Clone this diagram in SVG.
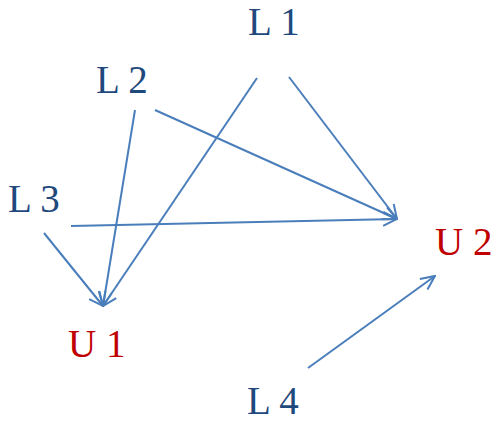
<svg xmlns="http://www.w3.org/2000/svg" width="494" height="423" viewBox="0 0 494 423">
<style>
.lbl{font-family:"Liberation Serif","Times New Roman",serif;font-size:39px}
.l{fill:#1F497D}
.u{fill:#C00000}
.e{stroke:#4A7EBB;stroke-width:2;fill:none;marker-end:url(#ah)}
</style>
<defs>
<marker id="ah" viewBox="0 0 16 16" refX="15" refY="8" markerWidth="16" markerHeight="16" markerUnits="userSpaceOnUse" orient="auto">
<path d="M1,1.5 L15,8 L1,14.5" fill="none" stroke="#4A7EBB" stroke-width="2"/>
</marker>
</defs>
<rect width="494" height="423" fill="#fff"/>
<g id="connectors">
<line class="e" x1="257" y1="78" x2="103" y2="306"/>
<line class="e" x1="289" y1="77" x2="397" y2="219"/>
<line class="e" x1="155" y1="110" x2="397" y2="219"/>
<line class="e" x1="135" y1="110" x2="103" y2="306"/>
<line class="e" x1="71" y1="226" x2="397" y2="219"/>
<line class="e" x1="44" y1="233" x2="103" y2="306"/>
<line class="e" x1="308" y1="368" x2="435" y2="276"/>
</g>
<g id="L1"><text class="lbl l" x="248" y="35">L 1</text></g>
<g id="L2"><text class="lbl l" x="96" y="93">L 2</text></g>
<g id="L3"><text class="lbl l" x="8" y="212">L 3</text></g>
<g id="L4"><text class="lbl l" x="247" y="414">L 4</text></g>
<g id="U1"><text class="lbl u" x="68" y="357">U 1</text></g>
<g id="U2"><text class="lbl u" x="435" y="255">U 2</text></g>
</svg>
